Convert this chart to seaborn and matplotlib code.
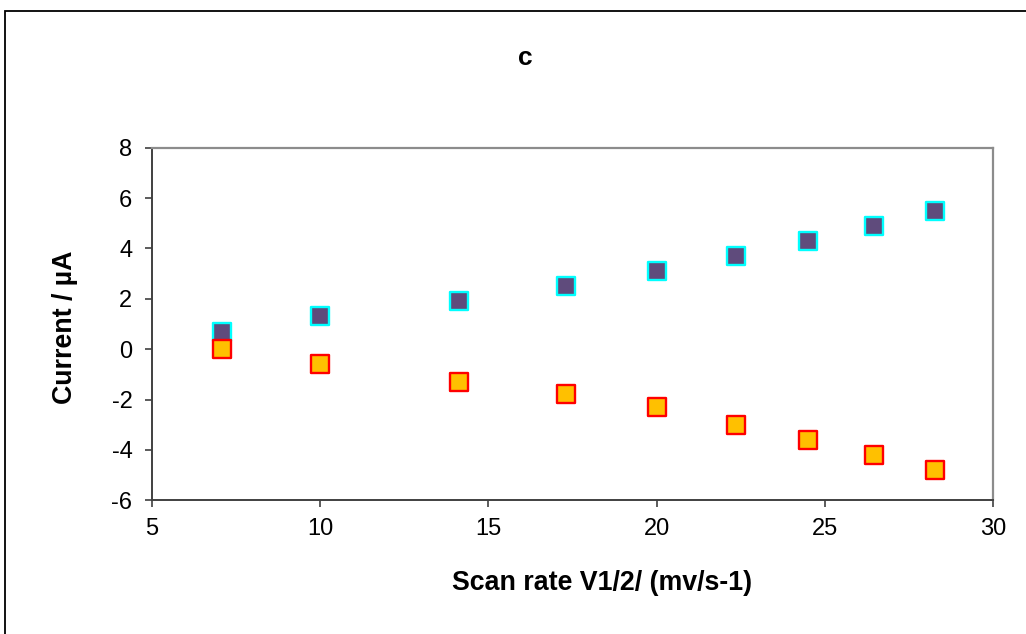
import numpy as np
import pandas as pd
import seaborn as sns
import matplotlib
matplotlib.use("Agg")
import matplotlib.pyplot as plt
from matplotlib.patches import Rectangle

# Square root of scan rate (mV/s)^1/2
scan_rate_sqrt = [7.07, 10.0, 14.14, 17.32, 20.0, 22.36, 24.49, 26.46, 28.28]
# Anodic and cathodic peak currents (µA)
anodic_current = [0.7, 1.3, 1.9, 2.5, 3.1, 3.7, 4.3, 4.9, 5.5]
cathodic_current = [0.0, -0.6, -1.3, -1.8, -2.3, -3.0, -3.6, -4.2, -4.8]

x_ticks = [5, 10, 15, 20, 25, 30]
y_ticks = [-6, -4, -2, 0, 2, 4, 6, 8]

df = pd.concat([
    pd.DataFrame({"x": scan_rate_sqrt, "y": anodic_current, "peak": "anodic"}),
    pd.DataFrame({"x": scan_rate_sqrt, "y": cathodic_current, "peak": "cathodic"}),
])

sns.set_theme(style="white")
plt.rcParams["font.family"] = ["Liberation Sans", "DejaVu Sans"]
plt.rcParams["text.color"] = "black"
plt.rcParams["axes.labelcolor"] = "black"

fig = plt.figure(figsize=(10.26, 6.34), dpi=100)
ax = fig.add_axes([0.148, 0.211, 0.820, 0.556])

styles = {
    "anodic": dict(fc="#5F4B7C", ec="#00FFFF"),
    "cathodic": dict(fc="#FFC000", ec="#FF0000"),
}
for peak, st in styles.items():
    sub = df[df["peak"] == peak]
    sns.scatterplot(data=sub, x="x", y="y", ax=ax, marker="s", s=165,
                    color=st["fc"], edgecolor=st["ec"], linewidth=1.7,
                    legend=False, zorder=3)

ax.set_xlim(5, 30)
ax.set_ylim(-6, 8)
ax.set_xticks(x_ticks)
ax.set_yticks(y_ticks)
ax.set_xticklabels([str(t) for t in x_ticks])
ax.set_yticklabels([str(t) for t in y_ticks])
ax.tick_params(axis="both", which="major", direction="out", length=5, width=1.2,
               color="#404040", labelsize=17, labelcolor="black",
               bottom=True, left=True)
ax.tick_params(axis="y", pad=9)
ax.tick_params(axis="x", pad=8)

for side in ["left", "bottom"]:
    ax.spines[side].set_color("#404040")
    ax.spines[side].set_linewidth(1.4)
for side in ["top", "right"]:
    ax.spines[side].set_color("#8C8C8C")
    ax.spines[side].set_linewidth(1.6)

ax.set_xlabel("Scan rate V1/2/ (mv/s-1)", fontsize=19.3, fontweight="bold", color="black")
ax.set_ylabel("Current / µA", fontsize=19.3, fontweight="bold", color="black")
ax.xaxis.set_label_coords(0.535, -0.198)
ax.yaxis.set_label_coords(-0.088, 0.49)

fig.text(0.512, 0.908, "c", ha="center", va="center", fontsize=19,
         fontweight="bold", color="black")

# outer frame
fig.patches.append(Rectangle((5 / 1026, -0.05), 1.1, 1 - 11 / 634 + 0.05,
                             transform=fig.transFigure, fill=False,
                             edgecolor="black", linewidth=1.3, zorder=0))

fig.savefig("out.png", dpi=100)
